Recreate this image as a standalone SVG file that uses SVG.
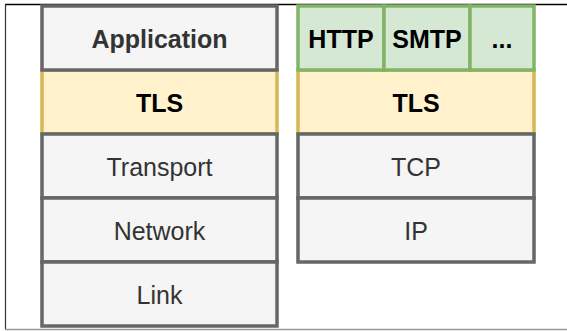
<svg xmlns="http://www.w3.org/2000/svg" width="567" height="331" viewBox="0 0 567 331">
<style>
.g{fill:#f5f5f5;stroke:#666666;stroke-width:3.5}
.y{fill:#fff2cc;stroke:#d6b656;stroke-width:3.5}
.gr{fill:#d5e8d4;stroke:#82b366;stroke-width:3.5}
text{font-family:"Liberation Sans",Arial,sans-serif;font-size:25px;text-anchor:middle}
.b{font-weight:bold}
.d{fill:#333333}
.k{fill:#000000}
</style>
<rect x="0" y="0" width="567" height="331" fill="#ffffff"/>
<g id="frame">
<line x1="5" y1="4.5" x2="567" y2="4.5" stroke="#000000" stroke-width="1.5"/>
<line x1="5.5" y1="4" x2="5.5" y2="330" stroke="#333333" stroke-width="1.2"/>
<line x1="5" y1="329.5" x2="567" y2="329.5" stroke="#999999" stroke-width="1.5"/>
</g>
<g id="tls-left"><rect class="y" x="42" y="70" width="235" height="64"/><text class="b k" x="159.5" y="112">TLS</text></g>
<g id="application"><rect class="g" x="42" y="6" width="235" height="64"/><text class="b d" x="159.5" y="48">Application</text></g>
<g id="transport"><rect class="g" x="42" y="134" width="235" height="64"/><text class="d" x="159.5" y="176">Transport</text></g>
<g id="network"><rect class="g" x="42" y="198" width="235" height="64"/><text class="d" x="159.5" y="240">Network</text></g>
<g id="link"><rect class="g" x="42" y="262" width="235" height="64"/><text class="d" x="159.5" y="304">Link</text></g>
<g id="tls-right"><rect class="y" x="298" y="70" width="236" height="64"/><text class="b k" x="416" y="112">TLS</text></g>
<g id="http"><rect class="gr" x="298" y="6" width="86" height="64"/><text class="b k" x="341" y="48">HTTP</text></g>
<g id="smtp"><rect class="gr" x="384" y="6" width="86" height="64"/><text class="b k" x="427" y="48">SMTP</text></g>
<g id="more"><rect class="gr" x="470" y="6" width="64" height="64"/><text class="b k" x="502" y="48">...</text></g>
<g id="tcp"><rect class="g" x="298" y="134" width="236" height="64"/><text class="d" x="416" y="176">TCP</text></g>
<g id="ip"><rect class="g" x="298" y="198" width="236" height="64"/><text class="d" x="416" y="240">IP</text></g>
<g id="connectors"></g>
</svg>
